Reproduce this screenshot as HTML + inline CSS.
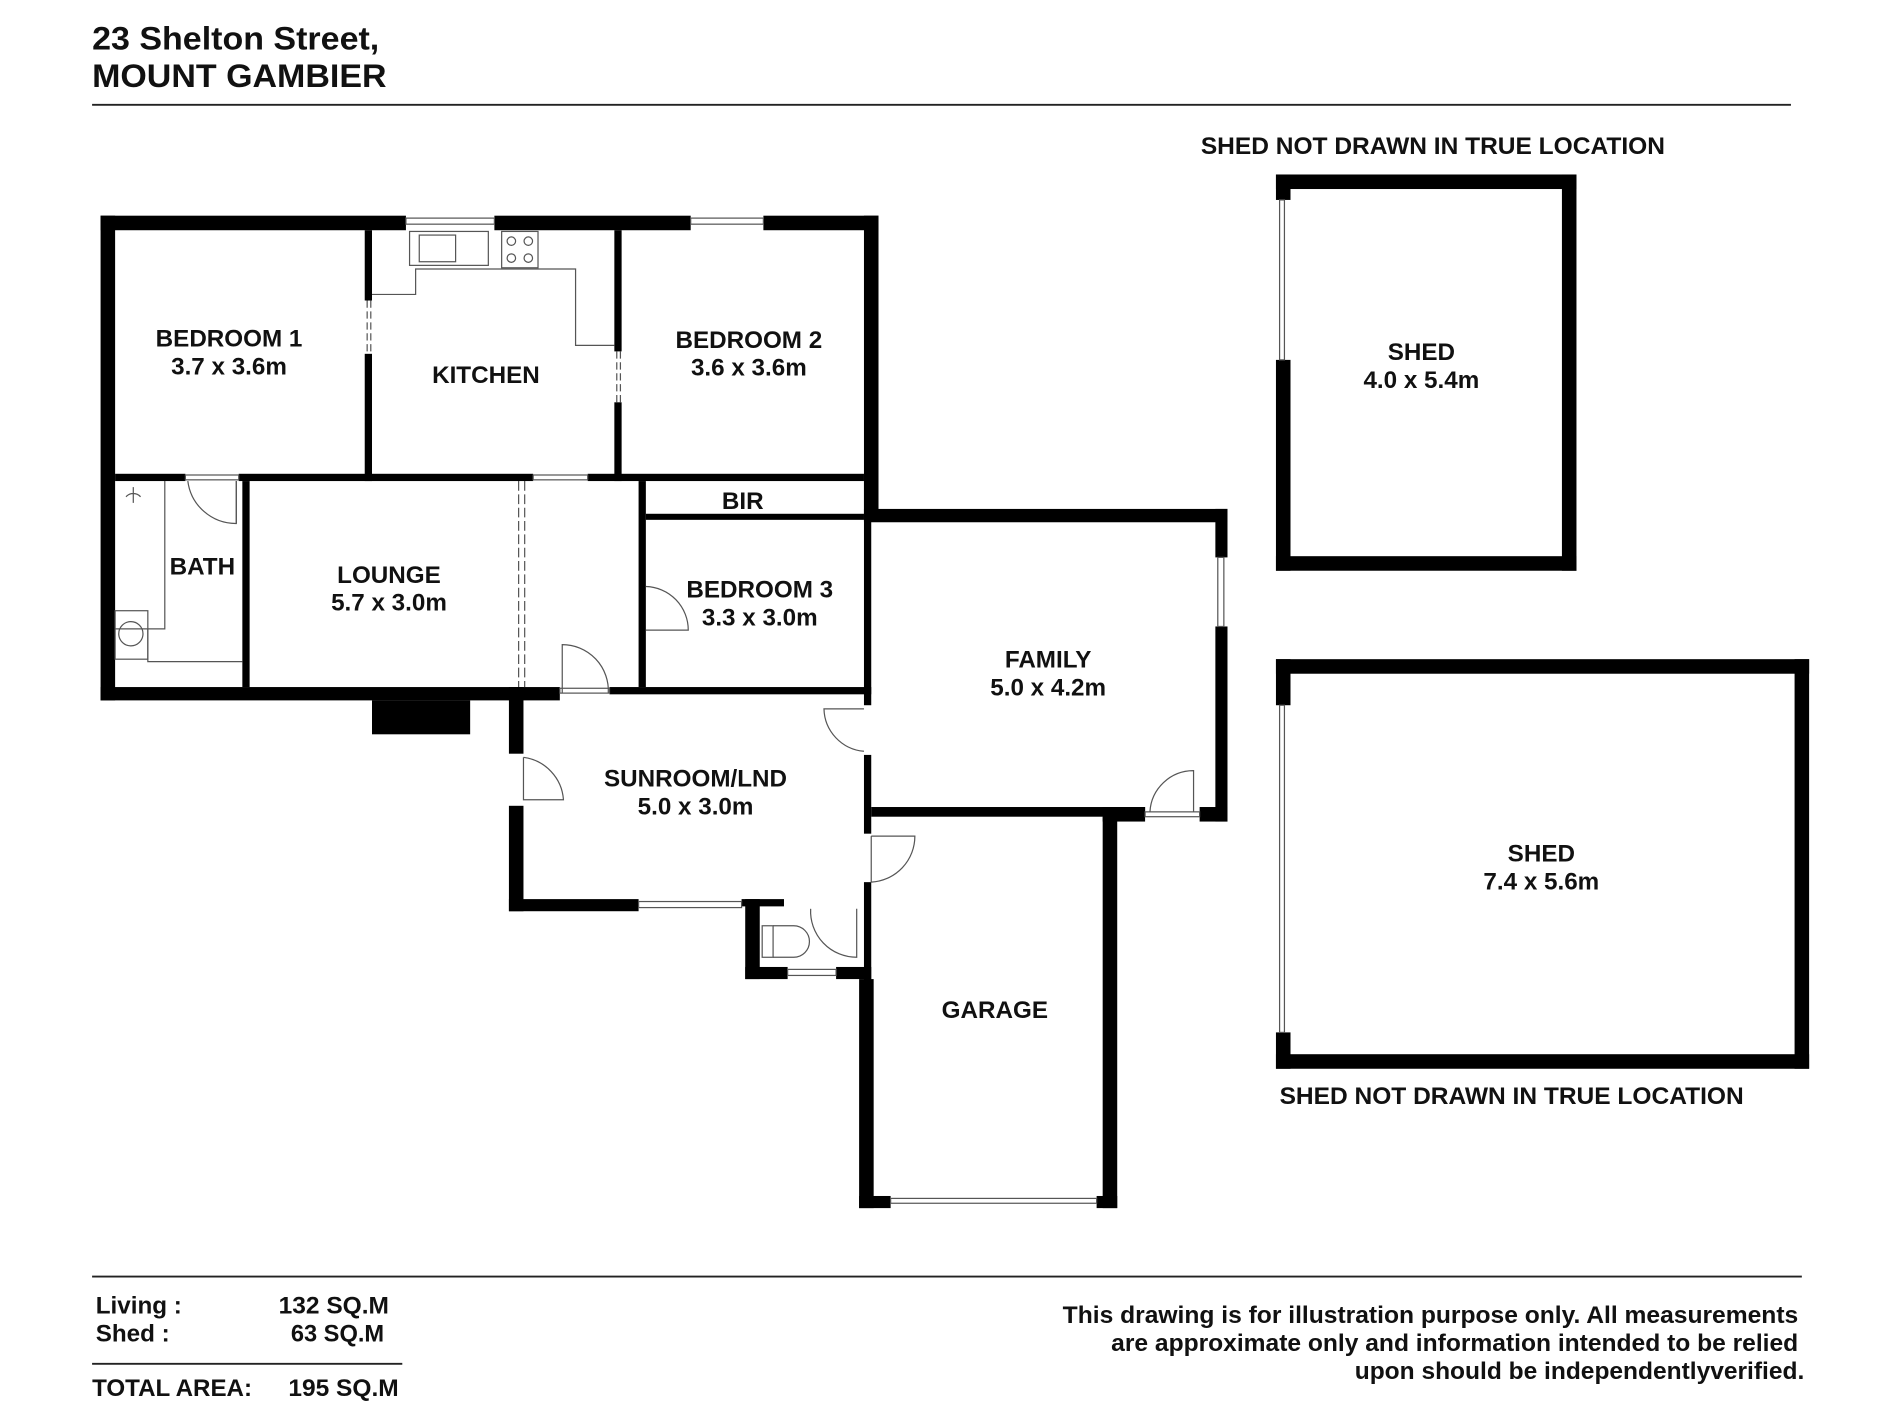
<!DOCTYPE html>
<html><head><meta charset="utf-8"><style>
html,body{margin:0;padding:0;background:#fff;}
svg{display:block;}
text{font-family:"Liberation Sans",Arial,sans-serif;font-weight:bold;fill:#111;}
</style></head><body>
<svg width="1900" height="1425" viewBox="0 0 1568 1176" preserveAspectRatio="none" xmlns="http://www.w3.org/2000/svg">
<rect width="1568" height="1176" fill="#fff"/>
<text x="76" y="41" font-size="27" textLength="237" lengthAdjust="spacingAndGlyphs">23 Shelton Street,</text>
<text x="76" y="72" font-size="27" textLength="243" lengthAdjust="spacingAndGlyphs">MOUNT GAMBIER</text>
<line x1="76" y1="86.5" x2="1478" y2="86.5" stroke="#222" stroke-width="1.5"/>

<g fill="#000">
<rect x="83" y="178" width="252" height="12"/>
<rect x="408" y="178" width="162" height="12"/>
<rect x="630" y="178" width="95" height="12"/>
<rect x="83" y="178" width="12" height="400"/>
<rect x="713" y="178" width="12" height="252"/>
<rect x="83" y="567" width="349" height="11"/>
<rect x="301" y="190" width="6" height="58"/>
<rect x="301" y="292" width="6" height="105"/>
<rect x="507" y="190" width="6" height="100"/>
<rect x="507" y="332" width="6" height="65"/>
<rect x="95" y="391" width="58" height="6"/>
<rect x="197" y="391" width="243" height="6"/>
<rect x="485" y="391" width="228" height="6"/>
<rect x="200" y="397" width="6" height="170"/>
<rect x="527" y="397" width="6" height="170"/>
<rect x="533" y="424" width="180" height="5"/>
<rect x="713" y="397" width="6" height="185"/>
<rect x="713" y="623" width="6" height="65"/>
<rect x="713" y="728" width="6" height="95"/>
<rect x="307" y="578" width="81" height="28"/>
<rect x="420" y="567" width="42" height="11"/>
<rect x="503" y="567" width="216" height="6"/>
<rect x="420" y="567" width="12" height="55"/>
<rect x="420" y="665" width="12" height="87"/>
<rect x="420" y="742" width="107" height="10"/>
<rect x="612" y="742" width="35" height="6"/>
<rect x="615" y="742" width="12" height="66"/>
<rect x="615" y="798" width="35" height="10"/>
<rect x="690" y="798" width="29" height="10"/>
<rect x="713" y="420" width="300" height="11"/>
<rect x="1003" y="420" width="10" height="40"/>
<rect x="1003" y="517" width="10" height="161"/>
<rect x="719" y="666" width="226" height="8"/>
<rect x="990" y="666" width="23" height="12"/>
<rect x="910" y="666" width="35" height="12"/>
<rect x="709" y="808" width="12" height="189"/>
<rect x="709" y="987" width="26" height="10"/>
<rect x="910" y="674" width="12" height="323"/>
<rect x="905" y="987" width="17" height="10"/>
<rect x="1053" y="144" width="248" height="12"/>
<rect x="1289" y="144" width="12" height="327"/>
<rect x="1053" y="459" width="248" height="12"/>
<rect x="1053" y="144" width="12" height="21"/>
<rect x="1053" y="297" width="12" height="174"/>
<rect x="1053" y="544" width="440" height="12"/>
<rect x="1481" y="544" width="12" height="338"/>
<rect x="1053" y="870" width="440" height="12"/>
<rect x="1053" y="544" width="12" height="38"/>
<rect x="1053" y="852" width="12" height="30"/>
</g>

<g fill="none" stroke="#555" stroke-width="1">
<rect x="335" y="180" width="73" height="5"/>
<rect x="570" y="180" width="60" height="5"/>
<rect x="527" y="744" width="85" height="5"/>
<rect x="650" y="800" width="40" height="5"/>
<rect x="735" y="989" width="170" height="4"/>
<rect x="1005" y="460" width="5" height="57"/>
<rect x="1056" y="165" width="4" height="132"/>
<rect x="1056" y="582" width="4" height="270"/>
<rect x="440" y="392" width="45" height="4"/>
<rect x="153" y="392" width="44" height="4"/>
<rect x="462" y="568" width="41" height="4"/>
<rect x="945" y="670" width="45" height="4"/>
<line x1="303" y1="248" x2="303" y2="292" stroke-dasharray="6,3"/>
<line x1="306" y1="248" x2="306" y2="292" stroke-dasharray="6,3"/>
<line x1="509" y1="290" x2="509" y2="332" stroke-dasharray="6,3"/>
<line x1="512" y1="290" x2="512" y2="332" stroke-dasharray="6,3"/>
<line x1="428" y1="397" x2="428" y2="567" stroke-dasharray="8,3"/>
<line x1="433" y1="397" x2="433" y2="567" stroke-dasharray="8,3"/>
<path d="M195 397 V432 A40 40 0 0 1 155 397"/>
<line x1="195" y1="397" x2="195" y2="432"/>
<path d="M464 572 V532 A38 38 0 0 1 502 572"/>
<path d="M533 520 H568 A36 36 0 0 0 533 484"/>
<path d="M713 585 H680 A36 36 0 0 0 713 620"/>
<path d="M432 625 V660 H465 A38 38 0 0 0 432 625"/>
<path d="M719 690 V728 A38 38 0 0 0 755 690 H719"/>
<path d="M985 670 V636 A36 36 0 0 0 949 670"/>
<path d="M707 750 V790 A38 38 0 0 1 669 750"/>
<polyline points="307,243 343,243 343,222 475,222 475,285 507,285"/>
<rect x="338" y="191" width="65" height="28"/>
<rect x="346" y="194" width="30" height="22"/>
<rect x="414" y="191" width="30" height="30"/>
<circle cx="422" cy="199" r="3.5"/><circle cx="436" cy="199" r="3.5"/>
<circle cx="422" cy="213" r="3.5"/><circle cx="436" cy="213" r="3.5"/>
<polyline points="95,519 136,519 136,397"/>
<polyline points="122,519 122,546 200,546"/>
<rect x="95" y="504" width="27" height="40"/>
<circle cx="108" cy="523" r="10"/>
<path d="M110 402 V415 M104 410 A8 8 0 0 1 116 410"/>
<rect x="629" y="764" width="9" height="26"/>
<path d="M638 764 H655 A13 13 0 0 1 655 790 H638"/>
</g>

<g font-size="20" text-anchor="middle">
<text x="189" y="286">BEDROOM 1</text><text x="189" y="309">3.7 x 3.6m</text>
<text x="401" y="316">KITCHEN</text>
<text x="618" y="287">BEDROOM 2</text><text x="618" y="310">3.6 x 3.6m</text>
<text x="613" y="420">BIR</text>
<text x="167" y="474">BATH</text>
<text x="321" y="481">LOUNGE</text><text x="321" y="504">5.7 x 3.0m</text>
<text x="627" y="493">BEDROOM 3</text><text x="627" y="516">3.3 x 3.0m</text>
<text x="865" y="551">FAMILY</text><text x="865" y="574">5.0 x 4.2m</text>
<text x="574" y="649">SUNROOM/LND</text><text x="574" y="672">5.0 x 3.0m</text>
<text x="821" y="840">GARAGE</text>
<text x="1173" y="297">SHED</text><text x="1173" y="320">4.0 x 5.4m</text>
<text x="1272" y="711">SHED</text><text x="1272" y="734">7.4 x 5.6m</text>
</g>
<text x="991" y="127" font-size="20" textLength="383" lengthAdjust="spacingAndGlyphs">SHED NOT DRAWN IN TRUE LOCATION</text>
<text x="1056" y="911" font-size="20" textLength="383" lengthAdjust="spacingAndGlyphs">SHED NOT DRAWN IN TRUE LOCATION</text>

<line x1="76" y1="1053.5" x2="1487" y2="1053.5" stroke="#222" stroke-width="1.5"/>
<g font-size="20">
<text x="79" y="1084">Living :</text><text x="230" y="1084" textLength="91" lengthAdjust="spacingAndGlyphs">132 SQ.M</text>
<text x="79" y="1107">Shed :</text><text x="240" y="1107" textLength="77" lengthAdjust="spacingAndGlyphs">63 SQ.M</text>
<text x="76" y="1152" textLength="132" lengthAdjust="spacingAndGlyphs">TOTAL AREA:</text><text x="238" y="1152" textLength="91" lengthAdjust="spacingAndGlyphs">195 SQ.M</text>
</g>
<line x1="76" y1="1125.5" x2="332" y2="1125.5" stroke="#222" stroke-width="1.5"/>
<g font-size="20">
<text x="877" y="1092" textLength="607" lengthAdjust="spacingAndGlyphs">This drawing is for illustration purpose only. All measurements</text>
<text x="917" y="1115" textLength="567" lengthAdjust="spacingAndGlyphs">are approximate only and information intended to be relied</text>
<text x="1118" y="1138" textLength="371" lengthAdjust="spacingAndGlyphs">upon should be independentlyverified.</text>
</g>
</svg>
</body></html>
